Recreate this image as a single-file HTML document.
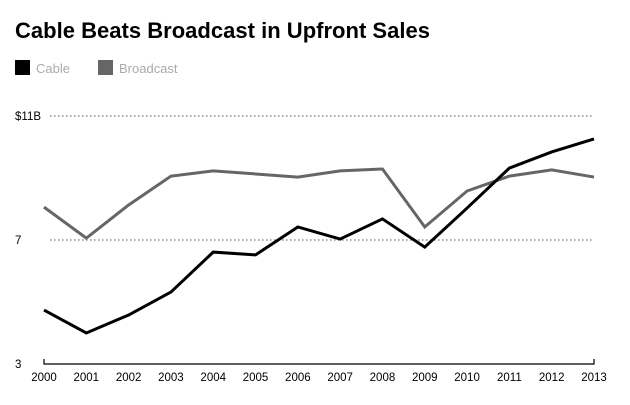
<!DOCTYPE html>
<html><head><meta charset="utf-8"><style>
body{margin:0;background:#fff;font-family:"Liberation Sans",Arial,sans-serif;}
</style></head><body>
<svg width="630" height="400" xmlns="http://www.w3.org/2000/svg">
<text x="15" y="38" font-size="22" font-weight="bold" fill="#000" textLength="415">Cable Beats Broadcast in Upfront Sales</text>
<g>
<rect x="15" y="60" width="15" height="15" fill="#000"/>
<text x="36" y="73" font-size="13" fill="#aaa">Cable</text>
<rect x="98" y="60" width="15" height="15" fill="#666"/>
<text x="119" y="73" font-size="13" fill="#aaa">Broadcast</text>
</g>
<g id="plot"></g>
</svg>
<script>
const years=[2000,2001,2002,2003,2004,2005,2006,2007,2008,2009,2010,2011,2012,2013];
const cable=[4.74,4.0,4.58,5.32,6.61,6.52,7.42,7.03,7.68,6.77,8.03,9.32,9.84,10.26];
const broadcast=[8.06,7.06,8.13,9.06,9.23,9.13,9.03,9.23,9.29,7.42,8.58,9.06,9.26,9.03];
const yTicks=[3,7,11];
const yTickLabels=["3","7","$11B"];
const NS="http://www.w3.org/2000/svg";
const g=document.getElementById('plot');
const x0=44,x1=594,yBase=364,yPer=31,yMin=3;
const xs=i=>x0+(x1-x0)*i/(years.length-1);
const ys=v=>yBase-(v-yMin)*yPer;
function mk(t,a){const e=document.createElementNS(NS,t);for(const k in a)e.setAttribute(k,a[k]);g.appendChild(e);return e;}
yTicks.forEach((v,i)=>{
  if(v!==yMin){
    const l=mk('line',{x1:50,x2:x1,y1:ys(v),y2:ys(v),stroke:'#777','stroke-width':1.3,'stroke-dasharray':'1.5,2.5'});
    
    
  }
  const t=mk('text',{x:15,y:ys(v)+4,'font-size':11.5,fill:'#000'});
  t.textContent=yTickLabels[i];
  
  
});
const ax=mk('path',{d:`M${x0},${yBase-5}V${yBase}H${x1}V${yBase-5}`,stroke:'#000','stroke-width':1.2,fill:'none'});


years.forEach((y,i)=>{
  const t=mk('text',{x:xs(i),y:yBase+17,'font-size':11.5,'text-anchor':'middle',fill:'#000'});
  t.textContent=y;
  
  
});
function line(vals,color,name){
  const p=mk('polyline',{points:vals.map((v,i)=>xs(i)+','+ys(v)).join(' '),fill:'none',stroke:color,'stroke-width':3,'stroke-linejoin':'miter'});
  
  
}
line(broadcast,'#666','broadcast-line');
line(cable,'#000','cable-line');
</script>
</body></html>
